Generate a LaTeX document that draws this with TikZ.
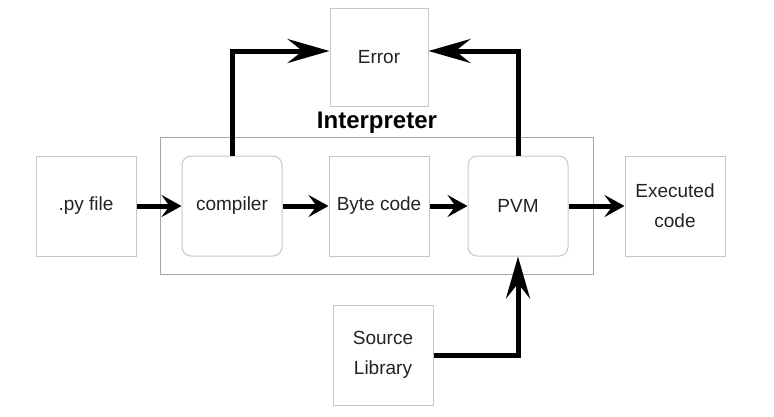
\documentclass[tikz,border=0pt]{standalone}
\usepackage{fontspec}
\setmainfont{Liberation Sans}
\usepackage{tikz}
\usetikzlibrary{positioning, fit, arrows.meta}
\definecolor{boxgray}{HTML}{C6C6C6}
\definecolor{framegray}{HTML}{A6A6A6}
\definecolor{textgray}{HTML}{222222}
\tikzset{Stage/.style={%
    shape=rectangle,%
    draw=boxgray,%
    line width=1pt,%
    minimum width=100pt,%
    minimum height=100pt,%
    align=center,%
    text=textgray,%
    font=\fontsize{19}{30}\selectfont,%
}}
\tikzset{RoundStage/.style={%
    Stage,%
    rounded corners=9pt,%
}}
\tikzset{Flow/.style={%
    -{Stealth[length=20pt,width=22pt,inset=8pt]},
    line width=5pt,%
}}
\tikzset{LongFlow/.style={%
    -{Stealth[length=42pt,width=24pt,inset=15pt]},
    line width=5pt,%
}}

\begin{document}
\begin{tikzpicture}
    \useasboundingbox (0,0) rectangle (774pt,-416pt);
    \node[Stage] (py) at (86pt,-206pt) {.py file};
    \node[RoundStage, right=45pt of py] (compiler) {compiler};
    \node[Stage, right=46pt of compiler] (bytecode) {Byte code};
    \node[RoundStage, right=38pt of bytecode] (pvm) {PVM};
    \node[Stage, right=56pt of pvm] (executed) {Executed\\code};
    \node[Stage, minimum width=98pt, minimum height=98pt, above=49pt of bytecode] (error) {Error};
    \node[Stage, below=48pt of bytecode, xshift=4pt] (source) {Source\\Library};
    \node[draw=framegray, line width=1.6pt, inner xsep=21pt, inner ysep=18pt,
        fit={(compiler) (bytecode) (pvm) ([xshift=4pt]pvm.east)}] (interp) {};
    \node[above=0pt of interp, font=\fontsize{24}{28}\selectfont\bfseries] (interpLabel) {Interpreter};

    \draw[Flow] (py) -- (compiler);
    \draw[Flow] (compiler) -- (bytecode);
    \draw[Flow] (bytecode) -- (pvm);
    \draw[Flow] (pvm) -- (executed);
    \draw[LongFlow] (compiler.north) |- ([yshift=6pt]error.west);
    \draw[LongFlow] (pvm.north) |- ([yshift=6pt]error.east);
    \draw[LongFlow] (source.east) -| (pvm.south);
\end{tikzpicture}
\end{document}
